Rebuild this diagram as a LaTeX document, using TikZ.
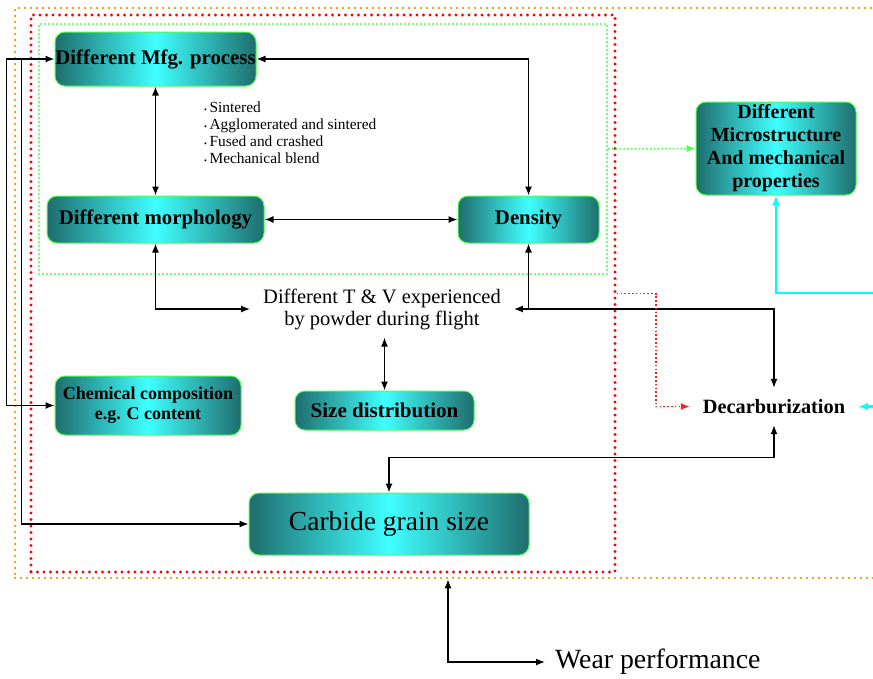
\documentclass[tikz,border=0pt]{standalone}
\usepackage{fontspec}
\setmainfont{Liberation Serif}
\usetikzlibrary{arrows.meta}
\definecolor{qqffff}{rgb}{0.25,1,1}
\definecolor{ttvvvv}{rgb}{0.12,0.43,0.43}
\definecolor{ddaaqq}{rgb}{0.85,0.65,0.13}
\definecolor{qqffqq}{rgb}{0.3,1,0.3}
\definecolor{ssffff}{rgb}{0,1,1}
\definecolor{ffqqqq}{rgb}{1,0.1,0.1}

\begin{document}
\begin{tikzpicture}[x=1pt, y=-1pt,
    box/.style={rounded corners=10pt, draw=qqffqq, line width=1pt, left color=ttvvvv, right color=ttvvvv, middle color=qqffff, align=center, inner sep=0pt},
    link/.style={line width=1.3pt, >={Latex[length=9pt,width=7pt]}},
    cyn/.style={line width=2.5pt, color=ssffff, >={Latex[length=10pt,width=8pt]}},
    thindot/.style={line width=1.6pt, dash pattern=on 1.6pt off 2.2pt, >={Latex[length=9pt,width=7pt]}},
    odot/.style={draw=ddaaqq, line width=2.6pt, line cap=round, dash pattern=on 0pt off 6pt},
    rdot/.style={draw=red, line width=3.4pt, line cap=round, dash pattern=on 0pt off 6.5pt},
    gdot/.style={draw=qqffqq, line width=2.2pt, line cap=round, dash pattern=on 0pt off 4pt},
    bf21/.style={font=\bfseries\fontsize{20.8}{22}\selectfont},
    rm20/.style={font=\fontsize{20.5}{22}\selectfont},
    bul/.style={font=\fontsize{15.4}{17}\selectfont}]
    \useasboundingbox (0,0) rectangle (873,678);
    \node[odot, minimum width=866pt, minimum height=570pt] (orng) at (448,293) {};
    \node[rdot, minimum width=584pt, minimum height=557pt] (redbox) at (323,293.5) {};
    \node[gdot, minimum width=568pt, minimum height=250pt] (grn) at (323,149) {};
    \coordinate (rim) at (881,293);
    \node[box, bf21, minimum width=201pt, minimum height=54pt] (mfg) at (155.5,59) {Different Mfg. process};
    \node[box, bf21, minimum width=217pt, minimum height=47pt] (morph) at (155.5,219.5) {Different morphology};
    \node[box, bf21, minimum width=141pt, minimum height=47pt] (dens) at (528.5,219.5) {Density};
    \node[box, font=\bfseries\fontsize{20}{23}\selectfont, minimum width=160pt, minimum height=93pt] (micro) at (776,148.5) {Different\\Microstructure\\And mechanical\\properties};
    \node[box, font=\bfseries\fontsize{18}{20}\selectfont, minimum width=186pt, minimum height=59pt] (chem) at (148,405.5) {Chemical composition\\e.g. C content};
    \node[box, font=\bfseries\fontsize{21}{22}\selectfont, minimum width=179pt, minimum height=39pt] (size) at (384.5,410.5) {Size distribution};
    \node[box, font=\fontsize{27.5}{28}\selectfont, minimum width=280pt, minimum height=62pt] (carb) at (389,524) {Carbide grain size};
    \node[rm20, align=center, inner xsep=13pt, inner ysep=8pt] (tv) at (382,309) {Different T \& V experienced\\by powder during flight};
    \node[bul, align=left, anchor=west, inner sep=0pt] (list) at (204,132.5) {{\fontsize{8}{8}\selectfont\textbullet}\,Sintered\\{\fontsize{8}{8}\selectfont\textbullet}\,Agglomerated and sintered\\{\fontsize{8}{8}\selectfont\textbullet}\,Fused and crashed\\{\fontsize{8}{8}\selectfont\textbullet}\,Mechanical blend};
    \node[font=\bfseries\fontsize{20.3}{22}\selectfont, minimum width=168pt, minimum height=37pt, inner sep=0pt] (decarb) at (774,406.5) {Decarburization};
    \node[font=\fontsize{27.8}{28}\selectfont, anchor=west, inner xsep=10pt, inner ysep=0pt] (wear) at (545,662) {Wear performance};
    \draw[link, <->] (mfg.east) -| (dens.north);
    \draw[link, <->] (mfg.south) -- (morph.north);
    \draw[link, <->] (morph.east) -- (dens.west);
    \draw[link, <->] (morph.south) |- (tv.west);
    \draw[link, <->] (dens.south) |- (tv.east);
    \draw[link, ->] (dens.south |- tv.east) -| (decarb.north);
    \draw[link, <->] (size.north |- tv.south) -- (size.north);
    \draw[link, <->] (carb.north) -- ++(0,-35) -| (decarb.south);
    \draw[link, <->] (mfg.west) -- ++(-48,0) |- (chem.west);
    \draw[link, ->] (mfg.west) ++(-33,0) |- (carb.west);
    \draw[link, <->] (orng.south) |- (wear.west);
    \draw[thindot, color=qqffqq, ->] (grn.east) -- (micro.west);
    \draw[thindot, color=ffqqqq, ->] (redbox.east) -- ++(39,0) |- (decarb.west);
    \draw[cyn, ->] (rim) -| (micro.south);
    \draw[cyn, ->] (rim |- decarb.east) -- (decarb.east);
\end{tikzpicture}
\end{document}
